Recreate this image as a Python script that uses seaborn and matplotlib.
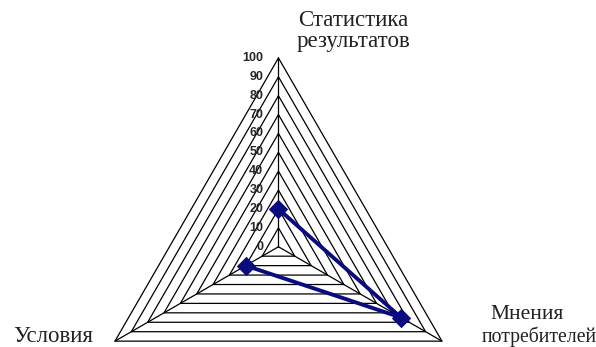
import numpy as np
import pandas as pd
import matplotlib
matplotlib.use("Agg")
import matplotlib.pyplot as plt
import seaborn as sns

# Radar chart data
categories = ["Статистика\nрезультатов", "Мнения\nпотребителей", "Условия"]
values = [20, 75, 20]
levels = list(range(10, 101, 10))
tick_labels = [str(v) for v in range(0, 101, 10)]

sns.set_style("white")
plt.rcParams['font.family'] = ['Liberation Serif', 'DejaVu Serif']

# axes go clockwise starting at the top
angles = np.deg2rad([90, -30, 210])

fig = plt.figure(figsize=(5.96, 3.47), dpi=100)
ax = fig.add_axes([0, 0, 1, 1])
ax.set_xlim(-147.5, 168.2)
ax.set_ylim(-53.1, 130.7)
ax.axis("off")

# triangle grid
for lev in levels:
    gx = lev * np.cos(np.append(angles, angles[0]))
    gy = lev * np.sin(np.append(angles, angles[0]))
    ax.plot(gx, gy, color="black", lw=0.9, zorder=1)

# spokes
for a in angles:
    ax.plot([0, 100 * np.cos(a)], [0, 100 * np.sin(a)], color="black", lw=0.9, zorder=1)

# scale labels on the vertical axis
for lab in tick_labels:
    ax.text(-8.0, float(lab), lab, ha="right", va="center", fontsize=9,
            fontweight="bold", family=["Liberation Sans", "DejaVu Sans"], zorder=2)

# data polygon
vals = np.append(values, values[0])
ang = np.append(angles, angles[0])
df = pd.DataFrame({"x": vals * np.cos(ang), "y": vals * np.sin(ang)})
sns.lineplot(data=df, x="x", y="y", sort=False, ax=ax, color="#0B0B80",
             lw=2.8, marker="D", markersize=9.5, markeredgecolor="#0B0B80", zorder=3)
ax.axis("off")

# category labels
ax.text(39.5, 114.3, categories[0], ha="center", va="center", fontsize=16.5,
        linespacing=0.97, color="#222222")
top_line, bottom_line = categories[1].split("\n")
ax.text(131.6, -36.1, top_line, ha="center", va="center", fontsize=15.5,
        color="#222222")
ax.text(138.0, -47.8, bottom_line, ha="center", va="center", fontsize=14.2,
        color="#222222")
ax.text(-119.4, -47.8, categories[2], ha="center", va="center", fontsize=16.5,
        color="#222222")

fig.savefig("out.png", dpi=100)
